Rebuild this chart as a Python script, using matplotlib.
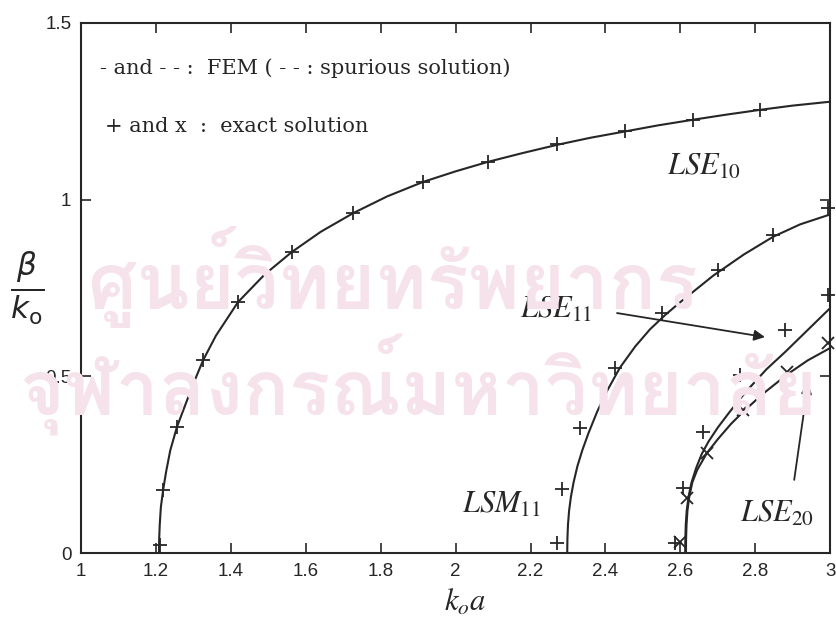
import matplotlib
matplotlib.use("Agg")
import matplotlib.pyplot as plt
from matplotlib import font_manager

plt.rcParams["mathtext.fontset"] = "stix"
plt.rcParams["font.family"] = ["Liberation Sans", "DejaVu Sans"]

# ---- LSE10 ----
lse10_fem_x = [1.208, 1.2085, 1.210, 1.213, 1.219, 1.227, 1.238, 1.256, 1.275, 1.300, 1.326,
               1.36, 1.419, 1.49, 1.563, 1.64, 1.727, 1.817, 1.913, 2.0, 2.087, 2.18, 2.271,
               2.36, 2.453, 2.54, 2.634, 2.72, 2.813, 2.9, 3.0]
lse10_fem_y = [0.0, 0.04, 0.08, 0.13, 0.178, 0.23, 0.29, 0.357, 0.41, 0.48, 0.546,
               0.615, 0.710, 0.788, 0.852, 0.909, 0.962, 1.009, 1.05, 1.08, 1.107, 1.132, 1.155,
               1.175, 1.193, 1.21, 1.226, 1.24, 1.254, 1.266, 1.277]
lse10_exact_x = [1.211, 1.219, 1.256, 1.326, 1.419, 1.563, 1.727, 1.913, 2.087, 2.271, 2.453, 2.634, 2.813]
lse10_exact_y = [0.023, 0.178, 0.357, 0.546, 0.710, 0.852, 0.962, 1.05, 1.107, 1.157, 1.193, 1.226, 1.254]

# ---- LSM11 ----
lsm11_fem_x = [2.298, 2.2985, 2.300, 2.303, 2.308, 2.315, 2.325, 2.338, 2.355, 2.378, 2.405,
               2.439, 2.48, 2.519, 2.56, 2.60, 2.688, 2.77, 2.848, 2.92, 3.0]
lsm11_fem_y = [0.0, 0.04, 0.08, 0.12, 0.16, 0.2, 0.245, 0.29, 0.34, 0.40, 0.46,
               0.525, 0.585, 0.633, 0.674, 0.71, 0.785, 0.845, 0.895, 0.93, 0.958]
lsm11_exact_x = [2.271, 2.284, 2.332, 2.426, 2.551, 2.70, 2.848, 2.995]
lsm11_exact_y = [0.028, 0.181, 0.354, 0.524, 0.679, 0.80, 0.90, 0.976]

# ---- LSE11 ----
lse11_fem_x = [2.613, 2.6133, 2.6145, 2.617, 2.622, 2.63, 2.642, 2.657, 2.675, 2.70, 2.73,
               2.76, 2.786, 2.83, 2.88, 2.94, 3.0]
lse11_fem_y = [0.0, 0.04, 0.08, 0.12, 0.16, 0.2, 0.24, 0.28, 0.315, 0.355, 0.397,
               0.437, 0.469, 0.52, 0.569, 0.631, 0.693]
lse11_exact_x = [2.586, 2.607, 2.661, 2.76, 2.88, 2.995]
lse11_exact_y = [0.028, 0.184, 0.343, 0.504, 0.631, 0.73]

# ---- LSE20 ----
lse20_fem_x = [2.615, 2.6153, 2.6165, 2.619, 2.624, 2.632, 2.645, 2.671, 2.70, 2.735,
               2.768, 2.82, 2.885, 2.94, 3.0]
lse20_fem_y = [0.0, 0.04, 0.08, 0.12, 0.16, 0.2, 0.235, 0.283, 0.322, 0.365,
               0.400, 0.45, 0.505, 0.545, 0.58]
lse20_exact_x = [2.60, 2.618, 2.671, 2.768, 2.885, 2.995]
lse20_exact_y = [0.03, 0.156, 0.283, 0.405, 0.512, 0.594]

x_ticks = [1, 1.2, 1.4, 1.6, 1.8, 2, 2.2, 2.4, 2.6, 2.8, 3]
x_tick_labels = ["1", "1.2", "1.4", "1.6", "1.8", "2", "2.2", "2.4", "2.6", "2.8", "3"]
y_ticks = [0, 0.5, 1, 1.5]
y_tick_labels = ["0", "0.5", "1", "1.5"]

watermark_lines = ["ศูนย์วิทยทรัพยากร", "จุฬาลงกรณ์มหาวิทยาลัย"]

ink = "#262626"

fig = plt.figure(figsize=(8.36, 6.19), dpi=100)

# library stamp behind the chart, only if a Thai-capable font is present
thai_fonts = [f.name for f in font_manager.fontManager.ttflist
              if "thai" in f.name.lower() or "loma" in f.name.lower()
              or "garuda" in f.name.lower() or "sarabun" in f.name.lower()]
if thai_fonts:
    stamp_kw = dict(family=thai_fonts[0], color="#f6e2eb", ha="center", va="center",
                    fontweight="bold", zorder=0)
    fig.text(0.47, 0.553, watermark_lines[0], fontsize=56, **stamp_kw)
    fig.text(0.5, 0.378, watermark_lines[1], fontsize=55, **stamp_kw)

ax = fig.add_axes([0.097, 0.1066, 0.896, 0.8564])
ax.patch.set_alpha(0)

fem_kw = dict(color=ink, lw=1.5, solid_capstyle="butt", solid_joinstyle="round")
plus_kw = dict(ls="none", marker="+", ms=10, mew=1.3, color=ink, clip_on=False)
cross_kw = dict(ls="none", marker="x", ms=8, mew=1.3, color=ink, clip_on=False)

ax.plot(lse10_fem_x, lse10_fem_y, **fem_kw)
ax.plot(lse10_exact_x, lse10_exact_y, **plus_kw)
ax.plot(lsm11_fem_x, lsm11_fem_y, **fem_kw)
ax.plot(lsm11_exact_x, lsm11_exact_y, **plus_kw)
ax.plot(lse11_fem_x, lse11_fem_y, **fem_kw)
ax.plot(lse11_exact_x, lse11_exact_y, **plus_kw)
ax.plot(lse20_fem_x, lse20_fem_y, **fem_kw)
ax.plot(lse20_exact_x, lse20_exact_y, **cross_kw)

ax.set_xlim(1, 3)
ax.set_ylim(0, 1.5)
ax.set_xticks(x_ticks)
ax.set_xticklabels(x_tick_labels)
ax.set_yticks(y_ticks)
ax.set_yticklabels(y_tick_labels)
ax.tick_params(direction="in", length=7, width=1.2, top=True, right=True,
               labelsize=13.5, colors=ink, pad=7)
for s in ax.spines.values():
    s.set_linewidth(1.5)
    s.set_color(ink)

# key text
serif = ["DejaVu Serif"]
ax.text(1.051, 1.373, "- and - - :  FEM ( - - : spurious solution)", family=serif,
        fontsize=15, color=ink, va="center", ha="left")
ax.text(1.064, 1.206, "+ and x  :  exact solution", family=serif,
        fontsize=15, color=ink, va="center", ha="left")

# mode labels
lab_kw = dict(fontsize=22, color=ink, ha="left", va="baseline")
ax.text(2.565, 1.07, r"$LSE_{10}$", **lab_kw)
ax.text(2.172, 0.665, r"$LSE_{11}$", **lab_kw)
ax.text(2.017, 0.113, r"$LSM_{11}$", **lab_kw)
ax.text(2.76, 0.088, r"$LSE_{20}$", **lab_kw)

arrow = dict(arrowstyle="-|>", mutation_scale=16, lw=1.3, color=ink, shrinkA=0, shrinkB=0)
ax.annotate("", xy=(2.826, 0.611), xytext=(2.431, 0.679), arrowprops=arrow)
ax.annotate("", xy=(2.941, 0.481), xytext=(2.904, 0.207), arrowprops=arrow)

# axis labels
fig.text(0.556, 0.026, r"$k_o a$", fontsize=22, color=ink, ha="center", va="center")
fig.text(0.032, 0.536, r"$\frac{\beta}{k_{\rm o}}$", fontsize=32, color=ink,
         ha="center", va="center", math_fontfamily="dejavusans")

fig.savefig("out.png", dpi=100)
